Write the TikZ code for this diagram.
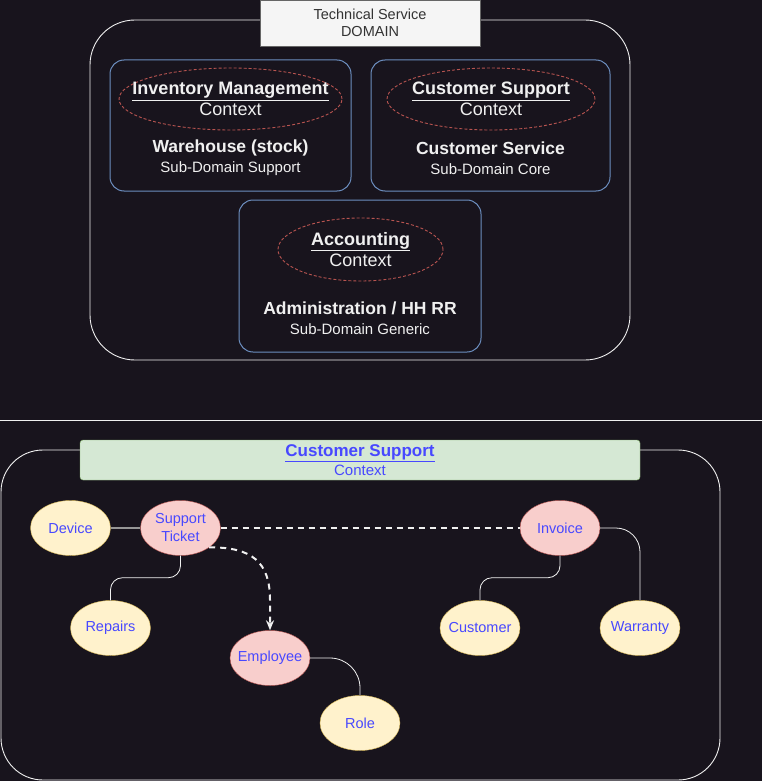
\documentclass[tikz,border=0pt]{standalone}
\usepackage{fontspec}
\setmainfont{Liberation Sans}
\usepackage{xcolor}
\usepackage{tikz}
\usetikzlibrary{shapes.geometric, arrows.meta, positioning, calc}
\definecolor{bgdark}{RGB}{24, 20, 29}
\definecolor{fgwhite}{RGB}{240, 240, 240}
\definecolor{sketchblue}{RGB}{108, 142, 191}
\definecolor{ringred}{RGB}{184, 84, 80}
\definecolor{tagfill}{RGB}{245, 245, 245}
\definecolor{tagline}{RGB}{102, 102, 102}
\definecolor{tagtext}{RGB}{51, 51, 51}
\definecolor{ctxfill}{RGB}{213, 232, 212}
\definecolor{ctxline}{RGB}{130, 179, 102}
\definecolor{entyellow}{RGB}{255, 242, 204}
\definecolor{entyellowline}{RGB}{214, 182, 86}
\definecolor{entred}{RGB}{248, 206, 204}
\definecolor{entredline}{RGB}{184, 84, 80}
\definecolor{labelblue}{RGB}{72, 72, 255}
\definecolor{linkgray}{RGB}{150, 150, 150}

\begin{document}
\begin{tikzpicture}[
    x=1pt, y=-1pt,
    frame/.style={rectangle, draw=fgwhite, line width=0.9pt},
    tag/.style={rectangle, draw=tagline, fill=tagfill, minimum width=220, minimum height=46, align=center, text=tagtext, font=\fontsize{14.5}{17}\selectfont},
    subdomain/.style={rectangle, rounded corners=14pt, draw=sketchblue, line width=1pt},
    ring/.style={ellipse, draw=ringred, line width=0.9pt, dash pattern=on 3pt off 2pt},
    ctxtext/.style={align=center, text=fgwhite, inner sep=0pt, font=\fontsize{18}{21}\selectfont},
    subtext/.style={align=center, text=fgwhite, inner sep=0pt, font=\fontsize{15}{20}\selectfont},
    enttext/.style={align=center, text=labelblue, inner sep=0pt, font=\fontsize{14.5}{18}\selectfont},
    entity/.style={ellipse, minimum width=80, minimum height=55, inner sep=0pt},
    core/.style={entity, draw=entredline, fill=entred},
    part/.style={entity, draw=entyellowline, fill=entyellow},
    link/.style={draw=fgwhite, line width=0.8pt},
    dashlink/.style={draw=fgwhite, line width=2pt, dash pattern=on 6pt off 5pt}
]
    \fill[bgdark] (0,0) rectangle (762,781);
    \useasboundingbox (0,0) rectangle (762,781);

    % technical service domain
    \node (domain) [frame, rounded corners=45pt, minimum width=540, minimum height=340] at (360,190) {};
    \node (domaintag) [tag] at (370,23) {Technical Service\\DOMAIN};

    \node (inventory) [subdomain, minimum width=241, minimum height=131] at (230.5,125.5) {};
    \node (invring) [ring, minimum width=223, minimum height=62] at (230.5,99) {};
    \node (invctx) [ctxtext] at (invring) {\textbf{\underline{Inventory Management}}\\Context};
    \node (invsub) [subtext] at (230.5,158) {{\fontsize{17.5}{20}\selectfont\bfseries Warehouse (stock)}\\Sub-Domain Support};

    \node (service) [subdomain, minimum width=239, minimum height=131] at (490.5,125.5) {};
    \node (csring) [ring, minimum width=208, minimum height=62] at (491,99) {};
    \node (csctx) [ctxtext] at (csring) {\textbf{\underline{Customer Support}}\\Context};
    \node (cssub) [subtext] at (490.5,158) {{\fontsize{17.5}{20}\selectfont\bfseries Customer Service}\\Sub-Domain Core};

    \node (admin) [subdomain, minimum width=242, minimum height=152] at (360,276) {};
    \node (accring) [ring, minimum width=165, minimum height=63] at (360.5,249.5) {};
    \node (accctx) [ctxtext] at (accring) {\textbf{\underline{Accounting}}\\Context};
    \node (accsub) [subtext] at (360,318.5) {{\fontsize{17.5}{20}\selectfont\bfseries Administration / HH RR}\\Sub-Domain Generic};

    \draw[fgwhite, line width=0.9pt] (0,420) -- (762,420);

    % customer support context
    \node (support) [frame, rounded corners=42pt, minimum width=719, minimum height=330] at (360.5,615) {};
    \node (cstitle) [rectangle, rounded corners=3pt, draw=ctxline, fill=ctxfill, minimum width=560, minimum height=40, align=center, inner sep=0pt, text=labelblue, font=\fontsize{15}{19}\selectfont] at (360,460) {{\fontsize{17}{19}\selectfont\bfseries\underline{Customer Support}}\\Context};

    \node (device) [part, label={[enttext]center:Device}] at (70.5,528) {};
    \node (ticket) [core, label={[enttext]center:{Support\\Ticket}}] at (180.5,528) {};
    \node (invoice) [core, label={[enttext]center:Invoice}] at (560,528) {};
    \node (repairs) [part, label={[enttext]center:Repairs}] at (110.5,628) {};
    \node (customer) [part, label={[enttext]center:Customer}] at (480,628) {};
    \node (warranty) [part, label={[enttext]center:Warranty}] at (640,628) {};
    \node (employee) [core, label={[enttext]center:Employee}] at (270,658) {};
    \node (role) [part, label={[enttext]center:Role}] at (360,723) {};

    \draw[draw=linkgray, line width=2pt] (device) -- (ticket);
    \draw[dashlink] (ticket) -- (invoice);
    \draw[link, rounded corners=12pt] (ticket.south) -- ++(0,22) -| (repairs.north);
    \draw[dashlink, -{Stealth[length=10pt, width=8pt]}] (ticket.-34) .. controls (252,547) and (270,562) .. (270,600) -- (employee.north);
    \draw[link, rounded corners=12pt] (invoice.south) -- ++(0,22) -| (customer.north);
    \draw[link, rounded corners=24pt] (invoice.east) -| (warranty.north);
    \draw[link, rounded corners=30pt] (employee.east) -| (role.north);
\end{tikzpicture}
\end{document}
